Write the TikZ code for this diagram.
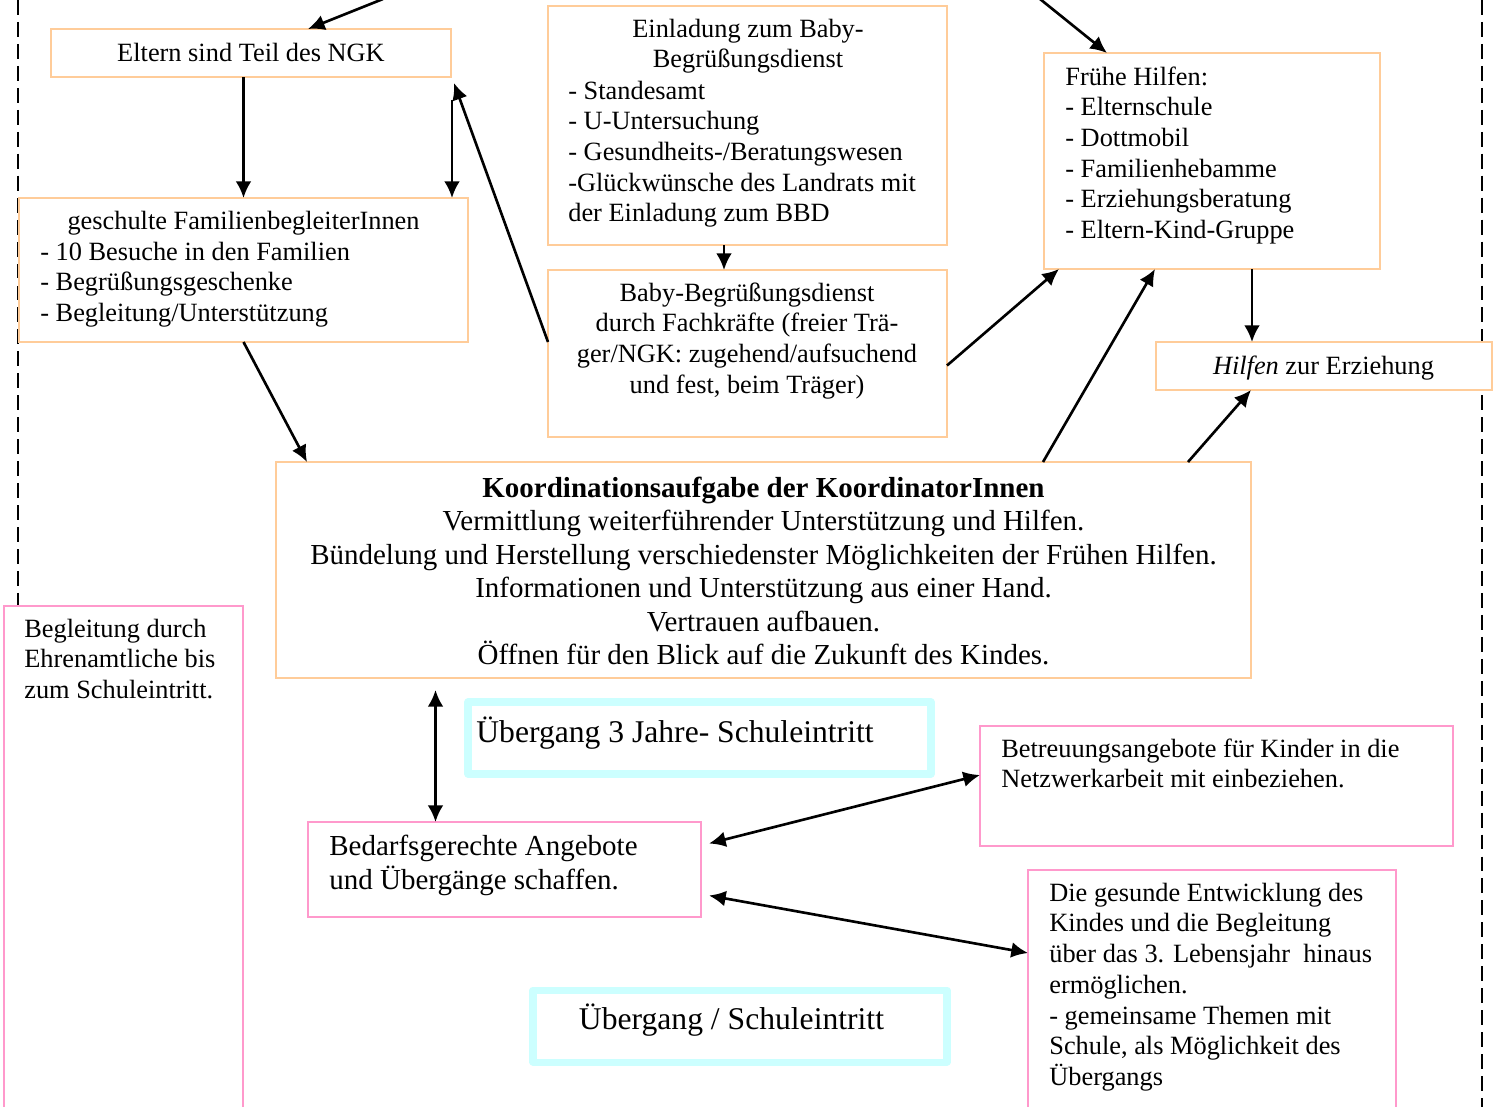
\documentclass[tikz,border=0pt]{standalone}
\usepackage{fontspec}
\setmainfont{Liberation Serif}
\usetikzlibrary{arrows.meta,fit}
\definecolor{orng}{HTML}{FFCC99}
\definecolor{pnk}{HTML}{FF99CC}
\definecolor{cyn}{HTML}{CCFFFF}
\tikzset{
 obox/.style={draw=orng, line width=1.1pt, fill=white, inner sep=0pt, outer sep=0pt, rectangle},
 pbox/.style={draw=pnk, line width=1.1pt, fill=white, inner sep=0pt, outer sep=0pt, rectangle},
 cbox/.style={draw=cyn, line width=4pt, fill=white, inner sep=0pt, outer sep=0pt, rectangle, line join=round},
 arr/.style={line width=1.5pt, -{Latex[length=9.5pt,width=9pt]}},
 darr/.style={line width=1.5pt, {Latex[length=9.5pt,width=9pt]}-{Latex[length=9.5pt,width=9pt]}},
 dline/.style={line width=1.1pt, dash pattern=on 8.5pt off 4pt},
 tA/.style={inner sep=0pt, font=\fontsize{15}{17.5}\selectfont},
 tB/.style={inner sep=0pt, font=\fontsize{16.5}{19.1}\selectfont},
 tBb/.style={inner sep=0pt, font=\fontsize{16.5}{19.9}\selectfont},
 tC/.style={inner sep=0pt, font=\fontsize{18}{21}\selectfont},
}
\begin{document}
\begin{tikzpicture}[x=0.02cm,y=-0.02cm]
\useasboundingbox (0,0) rectangle (1501,1106);
\clip (0,0) rectangle (1501,1106);
% dashed frame lines
\draw[dline] (18,0) -- (18,606);
\draw[dline] (1482,0) -- (1482,1110);
% boxes
\node[obox, fit={(51,29)(451,77)}] (eltern) {};
\node[obox, fit={(19,198)(468,342)}] (gesch) {};
\node[obox, fit={(548,6)(947,245)}] (einl) {};
\node[obox, fit={(548,270)(947,437)}] (bbd) {};
\node[obox, fit={(1044,53)(1380,269)}] (fruehe) {};
\node[obox, fit={(1156,342)(1492,390)}] (hilfen) {};
\node[obox, fit={(276,462)(1251,678)}] (koord) {};
\node[pbox, fit={(4,606)(243,1120)}] (begl) {};
\node[cbox, fit={(468,702)(931,774)}] (uebA) {};
\node[pbox, fit={(308,822)(701,917)}] (bedarf) {};
\node[pbox, fit={(980,726)(1453,846)}] (betreu) {};
\node[pbox, fit={(1028,870)(1396,1120)}] (gesund) {};
\node[cbox, fit={(533,990)(947,1062)}] (uebB) {};
% free ends
\coordinate (topA) at (383,-1);
\coordinate (topB) at (1040,-1);
\coordinate (midA) at (452,100);
\coordinate (midB) at (435.5,690);
% arrows
\draw[arr] (topA) -- ([shift={(57,0)}]eltern.north);
\draw[arr] (gesch.north |- eltern.south) -- (gesch.north);
\draw[arr] (midA) -- (midA |- gesch.north);
\draw[arr] ([shift={(0,-11.5)}]bbd.west) -- ([shift={(3,6)}]eltern.south east);
\draw[arr] ([shift={(-23.5,0)}]einl.south) -- ([shift={(-23.5,0)}]bbd.north);
\draw[arr] (topB) -- ([shift={(63,0)}]fruehe.north west);
\draw[arr] ([shift={(0,12)}]bbd.east) -- ([shift={(15,0)}]fruehe.south west);
\draw[arr] ([shift={(767,0)}]koord.north west) -- ([shift={(111,0)}]fruehe.south west);
\draw[arr] ([shift={(-128,0)}]fruehe.south east) -- ([shift={(96,0)}]hilfen.north west);
\draw[arr] ([shift={(-63,0)}]koord.north east) -- ([shift={(95,0)}]hilfen.south west);
\draw[arr] (gesch.south) -- ([shift={(31,0)}]koord.north west);
\draw[darr] (midB) -- (midB |- bedarf.north);
\draw[darr] ([shift={(8,-26)}]bedarf.east) -- ([shift={(0,49)}]betreu.north west);
\draw[darr] ([shift={(8,26)}]bedarf.east) -- ([shift={(0,83)}]gesund.north west);
% texts
\node[tA, anchor=base] (elternT) at (251,61) {Eltern sind Teil des NGK};
\node[tA, anchor=base] (geschT) at (243.5,229) {geschulte FamilienbegleiterInnen};
\node[tA, anchor=base west] (geschL) at (40,260) {\begin{tabular}[t]{@{}l@{}}- 10 Besuche in den Familien\\- Begrüßungsgeschenke\\- Begleitung/Unterstützung\end{tabular}};
\node[tA, anchor=base] (einlT) at (748,37) {\begin{tabular}[t]{@{}c@{}}Einladung zum Baby-\\Begrüßungsdienst\end{tabular}};
\node[tA, anchor=base west] (einlL) at (568,99) {\begin{tabular}[t]{@{}l@{}}- Standesamt\\- U-Untersuchung\\- Gesundheits-/Beratungswesen\\-Glückwünsche des Landrats mit\\der Einladung zum BBD\end{tabular}};
\node[tA, anchor=base] (bbdT) at (747,301) {\begin{tabular}[t]{@{}c@{}}Baby-Begrüßungsdienst\\durch Fachkräfte (freier Trä-\\ger/NGK: zugehend/aufsuchend\\und fest, beim Träger)\end{tabular}};
\node[tA, anchor=base west] (fruehT) at (1065,85) {\begin{tabular}[t]{@{}l@{}}Frühe Hilfen:\\- Elternschule\\- Dottmobil\\- Familienhebamme\\- Erziehungsberatung\\- Eltern-Kind-Gruppe\end{tabular}};
\node[tA, anchor=base] (hilfenT) at (1323.5,374) {\textit{Hilfen} zur Erziehung};
\node[tB, anchor=base] (koordT) at (763.5,497) {\begin{tabular}[t]{@{}c@{}}\textbf{Koordinationsaufgabe der KoordinatorInnen}\\Vermittlung weiterführender Unterstützung und Hilfen.\\Bündelung und Herstellung verschiedenster Möglichkeiten der Frühen Hilfen.\\Informationen und Unterstützung aus einer Hand.\\Vertrauen aufbauen.\\Öffnen für den Blick auf die Zukunft des Kindes.\end{tabular}};
\node[tA, anchor=base west] (beglT) at (24,637) {\begin{tabular}[t]{@{}l@{}}Begleitung durch\\Ehrenamtliche bis\\zum Schuleintritt.\end{tabular}};
\node[tC, anchor=base west] (uebAT) at (476,742) {Übergang 3 Jahre- Schuleintritt};
\node[tBb, anchor=base west] (bedarfT) at (329,855) {\begin{tabular}[t]{@{}l@{}}Bedarfsgerechte Angebote\\und Übergänge schaffen.\end{tabular}};
\node[tA, anchor=base west] (betreuT) at (1001,757) {\begin{tabular}[t]{@{}l@{}}Betreuungsangebote für Kinder in die\\Netzwerkarbeit mit einbeziehen.\end{tabular}};
\node[tA, anchor=base west] (gesundT) at (1049,901) {\begin{tabular}[t]{@{}l@{}}Die gesunde Entwicklung des\\Kindes und die Begleitung\\über das 3. Lebensjahr\ \ hinaus\\ermöglichen.\\- gemeinsame Themen mit\\Schule, als Möglichkeit des\\Übergangs\end{tabular}};
\node[tC, anchor=base] (uebBT) at (731.5,1029) {Übergang / Schuleintritt};
\end{tikzpicture}
\end{document}
